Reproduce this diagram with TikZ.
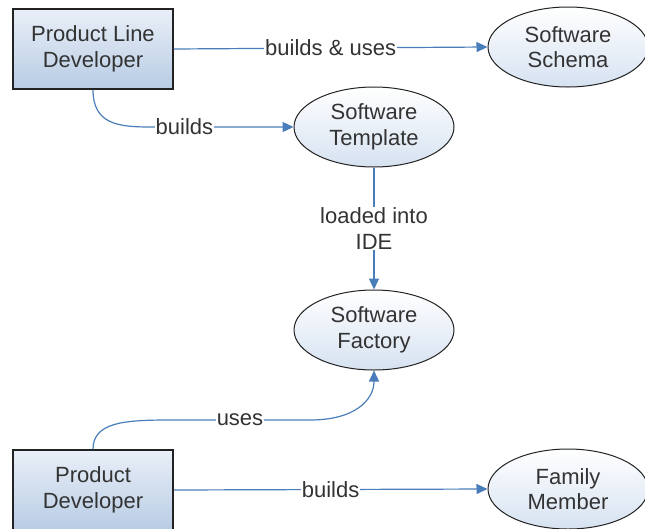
\documentclass[tikz,border=0pt]{standalone}
\usepackage{fontspec}
\setmainfont{Liberation Sans}
\usetikzlibrary{arrows.meta,shapes.geometric}
\definecolor{conncol}{HTML}{4A7EBB}
\definecolor{txtcol}{HTML}{333333}
\definecolor{edgecol}{HTML}{222222}
\definecolor{boxtop}{HTML}{E9EFF8}
\definecolor{boxbot}{HTML}{B8CCE4}
\definecolor{elltop}{HTML}{FFFFFF}
\definecolor{ellbot}{HTML}{D6E2F1}
\tikzset{
  txt/.style={text=txtcol, align=center, font=\fontsize{22}{25.5}\selectfont},
  actor/.style={txt, rectangle, draw=edgecol, line width=1.5pt, top color=boxtop,
    bottom color=boxbot, minimum width=160pt, minimum height=80pt},
  artefact/.style={txt, ellipse, draw=edgecol, line width=1pt, top color=elltop,
    bottom color=ellbot, minimum width=160pt, minimum height=80pt, inner sep=0pt},
  conn/.style={draw=conncol, line width=1.2pt, -{Triangle[length=11pt,width=10pt]}},
  lbl/.style={txt, fill=white, inner sep=1pt}
}
\begin{document}
\begin{tikzpicture}[x=1pt,y=-1pt]
  \useasboundingbox[fill=white] (0,0) rectangle (645,528);

  % actors
  \node[actor] (pld) at (93,49) {Product Line\\Developer};
  \node[actor] (pd) at (93,490) {Product\\Developer};

  % artefacts
  \node[artefact] (schema) at (568,47) {Software\\Schema};
  \node[artefact] (template) at (374,127) {Software\\Template};
  \node[artefact] (factory) at (374,330) {Software\\Factory};
  \node[artefact] (family) at (568,489) {Family\\Member};

  % relations
  \draw[conn] (pld.east) -- node[lbl] {builds \& uses} (schema.west);
  \draw[conn] (pld.south) .. controls (93,124) and (118,127) .. (150,127)
    -- node[lbl,pos=0.24] {builds} (template.west);
  \draw[conn] (template.south) -- node[lbl] {loaded into\\IDE} (factory.north);
  \draw[conn] (pd.north) .. controls (93,422) and (125,420) .. (170,420)
    -- node[lbl] {uses} (310,420) .. controls (355,420) and (374,400) .. (factory.south);
  \draw[conn] (pd.east) -- node[lbl] {builds} (family.west);
\end{tikzpicture}
\end{document}
